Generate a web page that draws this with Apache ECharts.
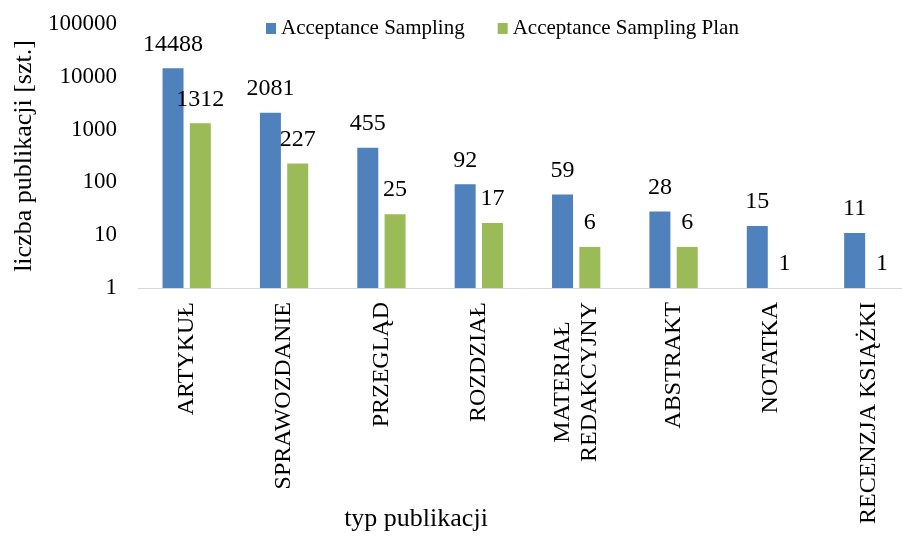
<!DOCTYPE html>
<html>
<head>
<meta charset="utf-8">
<script src="https://cdn.jsdelivr.net/npm/echarts@6/dist/echarts.min.js"></script>
<style>
    html, body { margin: 0; padding: 0; background: #fff; overflow: hidden; }
    #chart { width: 920px; height: 536px; }
</style>
</head>
<body>
<div id="chart"></div>
<script>
    // dane
    const categories = ['ARTYKUŁ', 'SPRAWOZDANIE', 'PRZEGLĄD', 'ROZDZIAŁ', 'MATERIAŁ\nREDAKCYJNY', 'ABSTRAKT', 'NOTATKA', 'RECENZJA KSIĄŻKI'];
    const seriesNames = ['Acceptance Sampling', 'Acceptance Sampling Plan'];
    const samplingValues = [14488, 2081, 455, 92, 59, 28, 15, 11];
    const samplingPlanValues = [1312, 227, 25, 17, 6, 6, 1, 1];

    const font = "'Liberation Serif', 'Times New Roman', serif";
    const textColor = '#000';

    const barLabel = {
        show: true,
        position: 'top',
        distance: 12,
        fontFamily: font,
        fontSize: 24,
        color: textColor
    };

    const myChart = echarts.init(document.getElementById('chart'));
    myChart.setOption({
        animation: false,
        textStyle: { fontFamily: font },
        // kontener jest szerszy od okna, bo oś X w oryginale wychodzi poza kadr
        grid: { left: 138, top: 24, width: 779, height: 264 },
        legend: {
            left: 261,
            top: 13,
            icon: 'rect',
            itemWidth: 10,
            itemHeight: 11,
            itemGap: 33,
            textStyle: { fontFamily: font, fontSize: 21, color: textColor },
            data: seriesNames
        },
        graphic: [
            {
                type: 'text',
                x: 416,
                y: 519,
                style: {
                    text: 'typ publikacji',
                    font: '26px ' + font,
                    fill: textColor,
                    align: 'center',
                    verticalAlign: 'middle'
                }
            }
        ],
        xAxis: {
            type: 'category',
            data: categories,
            axisLine: { lineStyle: { color: '#D9D9D9', width: 1 } },
            axisTick: { show: false },
            axisLabel: {
                rotate: 90,
                interval: 0,
                margin: 14,
                formatter: (value) => value.split('\n').map((line) => '{c|' + line + '}').join('\n'),
                rich: {
                    c: {
                        align: 'center',
                        fontFamily: font,
                        fontSize: 24,
                        lineHeight: 27,
                        color: textColor
                    }
                }
            }
        },
        yAxis: {
            type: 'log',
            logBase: 10,
            min: 1,
            max: 100000,
            name: 'liczba publikacji [szt.]',
            nameLocation: 'middle',
            nameGap: 101,
            nameTextStyle: { fontFamily: font, fontSize: 26, color: textColor },
            axisLine: { show: false },
            axisTick: { show: false },
            splitLine: { show: false },
            axisLabel: {
                margin: 21,
                fontFamily: font,
                fontSize: 23,
                color: textColor,
                formatter: (value) => String(value)
            }
        },
        series: [
            {
                name: seriesNames[0],
                type: 'bar',
                data: samplingValues,
                barWidth: 21,
                barGap: '30%',
                itemStyle: { color: '#4F81BD' },
                label: barLabel
            },
            {
                name: seriesNames[1],
                type: 'bar',
                data: samplingPlanValues,
                barWidth: 21,
                barGap: '30%',
                itemStyle: { color: '#9BBB59' },
                label: barLabel
            }
        ]
    });
</script>
</body>
</html>
